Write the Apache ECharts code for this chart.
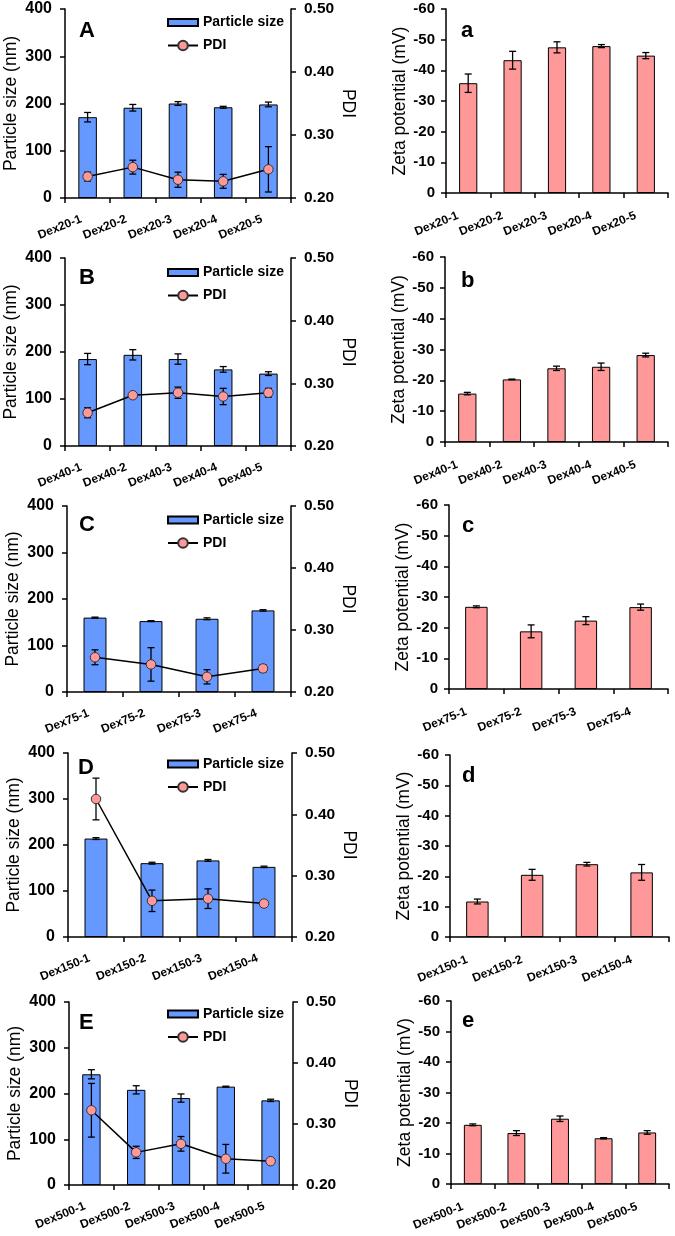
<!DOCTYPE html>
<html><head><meta charset="utf-8">
<script src="https://cdn.jsdelivr.net/npm/echarts@6/dist/echarts.min.js"></script>
<style>html,body{margin:0;padding:0;background:#fff}#c{width:675px;height:1236px}</style>
</head><body><div id="c"></div>
<script>
// ---------- DATA ----------
const catsA = ['Dex20-1', 'Dex20-2', 'Dex20-3', 'Dex20-4', 'Dex20-5'];
const sizeA = [171, 191, 200, 192, 198];
const sizeErrA = [10, 7, 4, 2, 5];
const pdiA = [0.234, 0.249, 0.229, 0.2265, 0.2455];
const pdiErrA = [0.007, 0.011, 0.012, 0.011, 0.036];
const zetaA = [-35.8, -43.3, -47.5, -47.9, -44.8];
const zetaErrA = [3, 2.9, 1.8, 0.5, 1];

const catsB = ['Dex40-1', 'Dex40-2', 'Dex40-3', 'Dex40-4', 'Dex40-5'];
const sizeB = [185, 194, 185, 163, 154];
const sizeErrB = [12, 11, 11, 6, 4];
const pdiB = [0.253, 0.281, 0.285, 0.279, 0.285];
const pdiErrB = [0.008, 0.002, 0.009, 0.013, 0.007];
const zetaB = [-15.7, -20.3, -23.9, -24.4, -28.2];
const zetaErrB = [0.4, 0.1, 0.7, 1.2, 0.6];

const catsC = ['Dex75-1', 'Dex75-2', 'Dex75-3', 'Dex75-4'];
const sizeC = [160, 152.5, 157.5, 175.5];
const sizeErrC = [1, 1, 2, 1.5];
const pdiC = [0.256, 0.2445, 0.2245, 0.238];
const pdiErrC = [0.012, 0.027, 0.0115, 0.0055];
const zetaC = [-26.8, -18.8, -22.3, -26.7];
const zetaErrC = [0.3, 2.1, 1.3, 1];

const catsD = ['Dex150-1', 'Dex150-2', 'Dex150-3', 'Dex150-4'];
const sizeD = [214, 160.5, 166.5, 152.5];
const sizeErrD = [2, 2, 2, 1.5];
const pdiD = [0.425, 0.259, 0.2625, 0.2545];
const pdiErrD = [0.034, 0.0175, 0.016, 0.001];
const zetaD = [-11.7, -20.5, -24.0, -21.3];
const zetaErrD = [0.8, 1.8, 0.6, 2.6];

const catsE = ['Dex500-1', 'Dex500-2', 'Dex500-3', 'Dex500-4', 'Dex500-5'];
const sizeE = [242, 208, 190, 215, 185];
const sizeErrE = [10, 9, 9, 1, 2.5];
const pdiE = [0.3225, 0.2535, 0.2675, 0.243, 0.239];
const pdiErrE = [0.044, 0.01, 0.012, 0.0235, 0.001];
const zetaE = [-19.4, -16.7, -21.4, -15.0, -16.9];
const zetaErrE = [0.3, 0.8, 0.9, 0.2, 0.6];

const sizeTicks = {min: 0, max: 400, interval: 100};
const pdiTicks = {min: 0.2, max: 0.5, interval: 0.1};
const zetaTicks = {min: -60, max: 0, interval: 10};

const panels = [
  {L: 'A', R: 'a', cats: catsA, size: sizeA, sizeErr: sizeErrA, pdi: pdiA, pdiErr: pdiErrA, zeta: zetaA, zetaErr: zetaErrA},
  {L: 'B', R: 'b', cats: catsB, size: sizeB, sizeErr: sizeErrB, pdi: pdiB, pdiErr: pdiErrB, zeta: zetaB, zetaErr: zetaErrB},
  {L: 'C', R: 'c', cats: catsC, size: sizeC, sizeErr: sizeErrC, pdi: pdiC, pdiErr: pdiErrC, zeta: zetaC, zetaErr: zetaErrC},
  {L: 'D', R: 'd', cats: catsD, size: sizeD, sizeErr: sizeErrD, pdi: pdiD, pdiErr: pdiErrD, zeta: zetaD, zetaErr: zetaErrD},
  {L: 'E', R: 'e', cats: catsE, size: sizeE, sizeErr: sizeErrE, pdi: pdiE, pdiErr: pdiErrE, zeta: zetaE, zetaErr: zetaErrE}
];

// ---------- LAYOUT ----------
const layoutL = [
  {left: 65, top: 9, width: 226, height: 189, letter: [79, 20], legendTop: 15.5},
  {left: 65, top: 258, width: 226, height: 188, letter: [79, 267], legendTop: 265.5},
  {left: 67, top: 506, width: 224, height: 186, letter: [79, 514], legendTop: 513},
  {left: 68, top: 753, width: 224, height: 184, letter: [78, 757], legendTop: 757},
  {left: 69, top: 1002, width: 224, height: 183, letter: [79, 1012], legendTop: 1007}
];
const layoutR = [
  {left: 446, top: 9, width: 222, height: 184, letter: [461, 20]},
  {left: 445, top: 257, width: 223, height: 185, letter: [461, 270]},
  {left: 449, top: 505, width: 219, height: 184, letter: [462, 515]},
  {left: 450, top: 755, width: 219, height: 182, letter: [462, 765]},
  {left: 451, top: 1001, width: 218, height: 183, letter: [462, 1010]}
];

const FONT = '"Liberation Sans", Arial, Helvetica, sans-serif';
const BLUE = '#6699FF';
const PINK = '#FF9999';
const AX = {color: '#000', width: 1.5};

function errRender(params, api) {
  const x = api.value(0), v = api.value(1), e = api.value(2);
  const hi = api.coord([x, v + e]);
  const lo = api.coord([x, v - e]);
  const w = 3.5;
  const st = {stroke: '#000', lineWidth: 1.3};
  return {type: 'group', children: [
    {type: 'line', shape: {x1: hi[0], y1: hi[1], x2: lo[0], y2: lo[1]}, style: st},
    {type: 'line', shape: {x1: hi[0] - w, y1: hi[1], x2: hi[0] + w, y2: hi[1]}, style: st},
    {type: 'line', shape: {x1: lo[0] - w, y1: lo[1], x2: lo[0] + w, y2: lo[1]}, style: st}
  ]};
}

const option = {
  backgroundColor: '#fff',
  animation: false,
  textStyle: {fontFamily: FONT},
  grid: [], xAxis: [], yAxis: [], series: [], legend: [], title: []
};

function catAxis(gi, cats, padRight) {
  return {
    type: 'category', gridIndex: gi, data: cats,
    axisLine: {show: true, onZero: false, lineStyle: AX},
    axisTick: {show: true, alignWithLabel: false, length: 5, lineStyle: AX},
    axisLabel: {interval: 0, rotate: 22, margin: 18, padding: [0, padRight, 0, 0],
      color: '#000', fontWeight: 'bold', fontSize: 12, fontFamily: FONT},
    splitLine: {show: false}
  };
}

panels.forEach((p, i) => {
  const gL = option.grid.length;
  const lo = layoutL[i];
  option.grid.push({left: lo.left, top: lo.top, width: lo.width, height: lo.height, containLabel: false});
  const xL = option.xAxis.length;
  option.xAxis.push(catAxis(gL, p.cats, 7));
  const ySize = option.yAxis.length;
  option.yAxis.push({
    type: 'value', gridIndex: gL, position: 'left',
    min: sizeTicks.min, max: sizeTicks.max, interval: sizeTicks.interval,
    name: 'Particle size (nm)', nameLocation: 'middle', nameGap: 45,
    nameTextStyle: {fontSize: 17.5, color: '#000', fontFamily: FONT},
    axisLine: {show: true, lineStyle: AX},
    axisTick: {show: true, length: 5, lineStyle: AX},
    axisLabel: {margin: 13, color: '#000', fontWeight: 'bold', fontSize: 16, fontFamily: FONT},
    splitLine: {show: false}
  });
  const yPdi = option.yAxis.length;
  option.yAxis.push({
    type: 'value', gridIndex: gL, position: 'right',
    min: pdiTicks.min, max: pdiTicks.max, interval: pdiTicks.interval,
    name: 'PDI', nameLocation: 'middle', nameGap: 48, nameRotate: -90,
    nameTextStyle: {fontSize: 17.5, color: '#000', fontFamily: FONT},
    axisLine: {show: true, lineStyle: AX},
    axisTick: {show: true, length: 5, lineStyle: AX},
    axisLabel: {margin: 13, color: '#000', fontWeight: 'bold', fontSize: 15.5, fontFamily: FONT,
      formatter: v => v.toFixed(2)},
    splitLine: {show: false}
  });
  option.series.push({
    name: 'Particle size', type: 'bar', xAxisIndex: xL, yAxisIndex: ySize,
    data: p.size, barWidth: '41%', z: 2,
    itemStyle: {color: BLUE, borderColor: '#000', borderWidth: 1}
  });
  option.series.push({
    name: 'sizeErr' + i, type: 'custom', xAxisIndex: xL, yAxisIndex: ySize, z: 3, silent: true,
    renderItem: errRender, encode: {x: 0, y: 1},
    data: p.cats.map((c, j) => [j, p.size[j], p.sizeErr[j]])
  });
  option.series.push({
    name: 'pdiErr' + i, type: 'custom', xAxisIndex: xL, yAxisIndex: yPdi, z: 4, silent: true,
    renderItem: errRender, encode: {x: 0, y: 1},
    data: p.cats.map((c, j) => [j, p.pdi[j], p.pdiErr[j]])
  });
  option.series.push({
    name: 'PDI', type: 'line', xAxisIndex: xL, yAxisIndex: yPdi, z: 5,
    data: p.pdi, symbol: 'circle', symbolSize: 9.5,
    lineStyle: {color: '#000', width: 1.5},
    itemStyle: {color: PINK, borderColor: '#333', borderWidth: 1}
  });
  option.legend.push({
    left: 167, top: lo.legendTop, padding: 0, orient: 'vertical',
    itemWidth: 30, itemHeight: 12, itemGap: 9, selectedMode: false,
    textStyle: {fontSize: 14, fontWeight: 'bold', color: '#000', fontFamily: FONT},
    data: [{name: 'Particle size', icon: 'path://M0,0H30V7H0Z'}, {name: 'PDI'}]
  });
  option.title.push({text: p.L, left: lo.letter[0], top: lo.letter[1], padding: 0,
    textStyle: {fontSize: 22, fontWeight: 'bold', color: '#000', fontFamily: FONT}});

  // right (zeta) panel
  const ro = layoutR[i];
  const gR = option.grid.length;
  option.grid.push({left: ro.left, top: ro.top, width: ro.width, height: ro.height, containLabel: false});
  const xR = option.xAxis.length;
  option.xAxis.push(catAxis(gR, p.cats, 11));
  const yZ = option.yAxis.length;
  option.yAxis.push({
    type: 'value', gridIndex: gR, position: 'left', inverse: true,
    min: zetaTicks.min, max: zetaTicks.max, interval: zetaTicks.interval,
    name: 'Zeta potential (mV)', nameLocation: 'middle', nameGap: 37,
    nameTextStyle: {fontSize: 17.5, color: '#000', fontFamily: FONT},
    axisLine: {show: true, lineStyle: AX},
    axisTick: {show: true, length: 5, lineStyle: AX},
    axisLabel: {margin: 11, color: '#000', fontWeight: 'bold', fontSize: 15, fontFamily: FONT},
    splitLine: {show: false}
  });
  option.series.push({
    name: 'Zeta potential', type: 'bar', xAxisIndex: xR, yAxisIndex: yZ,
    data: p.zeta, barWidth: '41%', z: 2,
    itemStyle: {color: PINK, borderColor: '#000', borderWidth: 1}
  });
  option.series.push({
    name: 'zetaErr' + i, type: 'custom', xAxisIndex: xR, yAxisIndex: yZ, z: 3, silent: true,
    renderItem: errRender, encode: {x: 0, y: 1},
    data: p.cats.map((c, j) => [j, p.zeta[j], p.zetaErr[j]])
  });
  option.title.push({text: p.R, left: ro.letter[0], top: ro.letter[1], padding: 0,
    textStyle: {fontSize: 22, fontWeight: 'bold', color: '#000', fontFamily: FONT}});
});

const chart = echarts.init(document.getElementById('c'), null, {renderer: 'canvas'});
chart.setOption(option);
</script>
</body></html>
